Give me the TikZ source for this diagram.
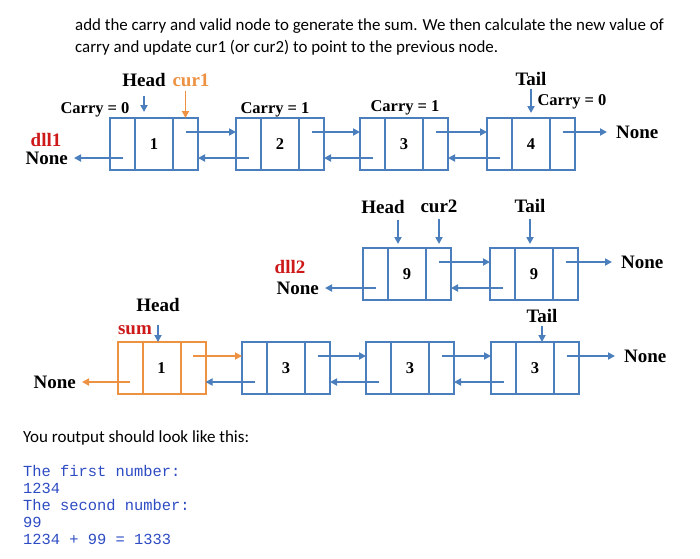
\documentclass[tikz,border=0pt]{standalone}
\usepackage{fontspec}
\setmainfont{Liberation Serif}
\setmonofont{Liberation Mono}
\newfontfamily\textefont{Carlito}
\usetikzlibrary{arrows.meta,positioning}
\definecolor{cbleu}{RGB}{74,126,189}
\definecolor{corange}{RGB}{237,145,66}
\definecolor{crouge}{RGB}{205,25,25}
\definecolor{ccode}{RGB}{45,75,195}

\tikzset{
  cellg/.style={draw=cbleu, line width=2pt, minimum width=25pt, minimum height=52pt, inner sep=0pt, outer sep=0pt},
  cellm/.style={cellg, minimum width=38pt, font=\bfseries\fontsize{16.5}{16}\selectfont},
  lien/.style={cbleu, line width=1.8pt, -{Triangle[length=7pt,width=7pt]}},
  lab/.style={font=\bfseries\fontsize{19}{19}\selectfont, inner sep=1pt},
  carry/.style={font=\bfseries\fontsize{16.5}{16}\selectfont, inner sep=1pt},
  nonel/.style={lab, anchor=east, inner xsep=6pt},
  noner/.style={lab, anchor=west, inner xsep=9pt}
}

% one list node: name, x, y, value, colour
\newcommand{\cellule}[5]{
  \node[cellm, draw=#5] (#1-v) at (#2,#3) {#4};
  \node[cellg, draw=#5, left=0pt of #1-v] (#1-l) {};
  \node[cellg, draw=#5, right=0pt of #1-v] (#1-r) {};
}

\begin{document}
\begin{tikzpicture}[x=1pt, y=-1pt]
\useasboundingbox (0,0) rectangle (700,558);

\node[anchor=north west, align=left, inner sep=0pt, font=\textefont\fontsize{16.9}{21.5}\selectfont] (intro) at (75,19)
  {add the carry and valid node to generate the sum. We then calculate the new value of\\
   carry and update cur1 (or cur2) to point to the previous node.};

% dll1
\foreach \n/\x/\v in {a1/154/1, a2/280/2, a3/404/3, a4/531/4}
  {\cellule{\n}{\x}{144}{\v}{cbleu}}
\foreach \a/\b in {a1/a2, a2/a3, a3/a4} {
  \draw[lien] ([yshift=-14pt]\a-r.north) -- ([yshift=-14pt]\b-l.north west);
  \draw[lien] ([yshift=12pt]\b-l.south) -- ([yshift=12pt]\a-r.south east);
}
\node[lab, text=crouge] (dll1) at (46,140) {dll1};
\node[nonel] (none1) at (74,158) {None};
\node[noner] (none2) at (607,132) {None};
\draw[lien] ([yshift=12pt]a1-l.south) -- (none1.east);
\draw[lien] ([yshift=-14pt]a4-r.north) -- (none2.west);
\node[lab] (hd1) at (144,80) {Head};
\node[lab, text=corange] (cur1) at (191,80) {cur1};
\node[lab] (tl1) at (531,79) {Tail};
\draw[lien, shorten <=8pt, shorten >=6pt] (hd1.south) -- (hd1.south |- a1-v.north);
\draw[lien, corange, shorten <=3pt] (cur1.south -| a1-r.center) -- (a1-r.north);
\draw[lien, shorten <=2pt, shorten >=5pt] (tl1.south) -- (tl1.south |- a4-v.north);
\foreach \p/\t/\x/\y in {c10/0/95/110, c11/1/275/110, c12/1/405/108, c13/0/572/102}
  {\node[carry] (\p) at (\x,\y) {Carry = \t};}

% dll2
\foreach \n/\x/\v in {b1/407/9, b2/534/9}
  {\cellule{\n}{\x}{274}{\v}{cbleu}}
\draw[lien] ([yshift=-14pt]b1-r.north) -- ([yshift=-14pt]b2-l.north west);
\draw[lien] ([yshift=12pt]b2-l.south) -- ([yshift=12pt]b1-r.south east);
\node[lab, text=crouge] (dll2) at (290,267) {dll2};
\node[nonel] (none3) at (325,288) {None};
\node[noner] (none4) at (612,262) {None};
\draw[lien] ([yshift=12pt]b1-l.south) -- (none3.east);
\draw[lien] ([yshift=-14pt]b2-r.north) -- (none4.west);
\node[lab] (hd2) at (383,207) {Head};
\node[lab] (cur2) at (439,206) {cur2};
\node[lab] (tl2) at (530,206) {Tail};
\coordinate (p2) at ([xshift=15pt]hd2.south);
\draw[lien, shorten <=5pt, shorten >=4pt] (p2) -- (p2 |- b1-v.north);
\draw[lien, shorten <=5pt, shorten >=4pt] (cur2.south) -- (cur2.south |- b1-r.north);
\draw[lien, shorten <=5pt, shorten >=4pt] (tl2.south) -- (tl2.south |- b2-v.north);

% sum
\cellule{c1}{161.5}{368}{1}{corange}
\foreach \n/\x in {c2/286, c3/410, c4/535}
  {\cellule{\n}{\x}{368}{3}{cbleu}}
\draw[lien, corange] ([yshift=-14pt]c1-r.north) -- ([yshift=-14pt]c2-l.north west);
\draw[lien] ([yshift=12pt]c2-l.south) -- ([yshift=12pt]c1-r.south east);
\foreach \a/\b in {c2/c3, c3/c4} {
  \draw[lien] ([yshift=-14pt]\a-r.north) -- ([yshift=-14pt]\b-l.north west);
  \draw[lien] ([yshift=12pt]\b-l.south) -- ([yshift=12pt]\a-r.south east);
}
\node[nonel] (none5) at (82,382) {None};
\node[noner] (none6) at (615,356) {None};
\draw[lien, corange] ([yshift=12pt]c1-l.south) -- (none5.east);
\draw[lien] ([yshift=-14pt]c4-r.north) -- (none6.west);
\node[lab] (hd3) at (158,305) {Head};
\node[lab, text=crouge] (sum) at (135,330) {sum};
\node[lab] (tl3) at (542,316) {Tail};
\draw[lien, shorten <=12pt] (hd3.south) -- (hd3.south |- c1-v.north);
\draw[lien, shorten <=2pt] (tl3.south) -- (tl3.south |- c4-v.north);

% output
\node[anchor=west, inner sep=0pt, font=\textefont\fontsize{17}{18}\selectfont] (sortie) at (23,438)
  {You routput should look like this:};
\node[anchor=north west, align=left, inner sep=0pt, text=ccode, font=\ttfamily\fontsize{15.4}{17}\selectfont] (code) at (23,465)
  {The first number:\\1234\\The second number:\\99\\1234 + 99 = 1333};
\end{tikzpicture}
\end{document}
